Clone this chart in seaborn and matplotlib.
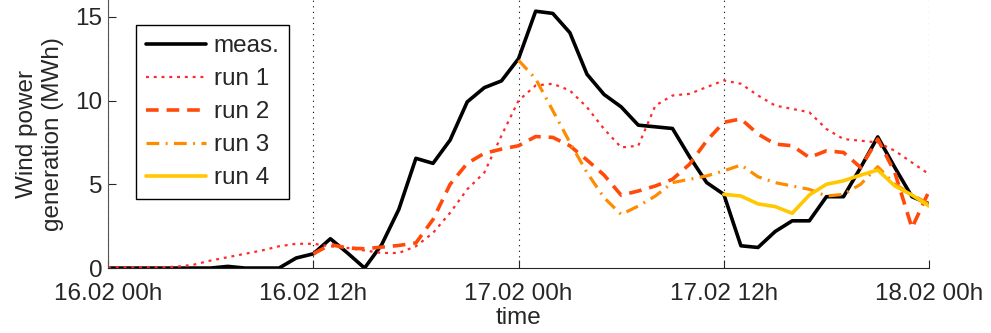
import numpy as np
import pandas as pd
import seaborn as sns
import matplotlib
matplotlib.use("Agg")
import matplotlib.pyplot as plt

# hours since 16.02 00h
meas_hours = list(range(0, 49))
meas = [0, 0, 0, 0, 0, 0, 0, 0.1, 0, 0, 0, 0.6, 0.85, 1.75, 0.9, 0, 1.4, 3.5,
        6.55, 6.25, 7.64, 9.92, 10.77, 11.17, 12.5, 15.33, 15.2, 14.05, 11.57,
        10.36, 9.62, 8.53, 8.43, 8.33, 6.64, 5.1, 4.4, 1.33, 1.23, 2.18, 2.82,
        2.82, 4.26, 4.26, 6.0, 7.83, 6.0, 4.26, 3.83]

run1_hours = list(range(0, 49))
run1 = [0.05, 0.05, 0.05, 0.05, 0.08, 0.2, 0.45, 0.65, 0.85, 1.05, 1.3, 1.45,
        1.45, 1.3, 1.2, 1.05, 0.9, 0.9, 1.3, 2.1, 3.3, 4.7, 5.7, 7.9, 10.0,
        10.9, 11.0, 10.6, 9.6, 8.3, 7.2, 7.3, 9.7, 10.3, 10.4, 10.8, 11.2, 11.0,
        10.3, 9.7, 9.5, 9.3, 8.3, 7.7, 7.6, 7.5, 7.0, 6.3, 5.6]

run2_hours = list(range(12, 49))
run2 = [0.85, 1.4, 1.2, 1.15, 1.25, 1.35, 1.5, 2.9, 5.0, 6.25, 6.85, 7.1, 7.3,
        7.85, 7.8, 7.3, 6.45, 5.55, 4.35, 4.6, 4.9, 5.3, 6.2, 7.6, 8.7, 8.9,
        8.0, 7.4, 7.3, 6.6, 7.0, 6.9, 6.0, 7.7, 5.7, 2.4, 4.6]

run3_hours = list(range(24, 49))
run3 = [12.4, 11.3, 9.4, 7.5, 5.7, 4.2, 3.2, 3.7, 4.3, 5.1, 5.3, 5.5, 5.8,
        6.15, 5.45, 5.1, 4.9, 4.7, 4.3, 4.4, 5.0, 6.05, 5.0, 4.4, 3.8]

run4_hours = list(range(36, 49))
run4 = [4.4, 4.3, 3.83, 3.67, 3.27, 4.36, 5.0, 5.21, 5.55, 5.85, 4.9, 4.36, 3.7]

tick_hours = [0, 12, 24, 36, 48]
tick_labels = ["16.02 00h", "16.02 12h", "17.02 00h", "17.02 12h", "18.02 00h"]

sns.set_style("ticks")
plt.rcParams['font.family'] = ['Liberation Sans', 'DejaVu Sans']
plt.rcParams['xtick.direction'] = 'in'
plt.rcParams['ytick.direction'] = 'in'

fig = plt.figure(figsize=(9.91, 3.33), dpi=100)
ax = fig.add_axes([0.109, 0.195, 0.8285, 0.805])

series = [
    ("meas.", meas_hours, meas, "black", "-", 2.6),
    ("run 1", run1_hours, run1, "#ff2a2a", (0, (1.3, 2.2)), 1.6),
    ("run 2", run2_hours, run2, "#ff4a0a", (0, (3.5, 2.2)), 2.6),
    ("run 3", run3_hours, run3, "#ff8c00", (0, (4.0, 2.0, 0.6, 2.0)), 2.3),
    ("run 4", run4_hours, run4, "#ffc800", "-", 2.6),
]
for name, hrs, vals, col, ls, lw in series:
    sns.lineplot(x=hrs, y=vals, ax=ax, color=col, linestyle=ls, linewidth=lw,
                 label=name)

ax.set_xlim(0, 48)
ax.set_ylim(0, 16)
ax.set_xticks(tick_hours)
ax.set_xticklabels(tick_labels)
ax.set_yticks([0, 5, 10, 15])
ax.tick_params(labelsize=17.5, length=6, width=0.8)
ax.tick_params(axis='x', pad=11)
ax.tick_params(axis='y', pad=4)
ax.xaxis.grid(True, linestyle=(0, (1, 4)), color="black", linewidth=0.8)
sns.despine(ax=ax, top=True, right=True)
ax.spines['left'].set_color('#555555')

ax.set_xlabel("time", fontsize=17.5, labelpad=1)
ax.set_ylabel("Wind power\ngeneration (MWh)", fontsize=17.5, labelpad=8,
              linespacing=1.25)

leg = ax.legend(loc="upper left", bbox_to_anchor=(0.034, 0.905), fontsize=17.5,
                frameon=True, fancybox=False, framealpha=1, edgecolor="black",
                handlelength=2.5, handletextpad=0.3, labelspacing=0.45,
                borderpad=0.4, borderaxespad=0)
leg.get_frame().set_linewidth(1.0)

fig.savefig("out.png", dpi=100)
